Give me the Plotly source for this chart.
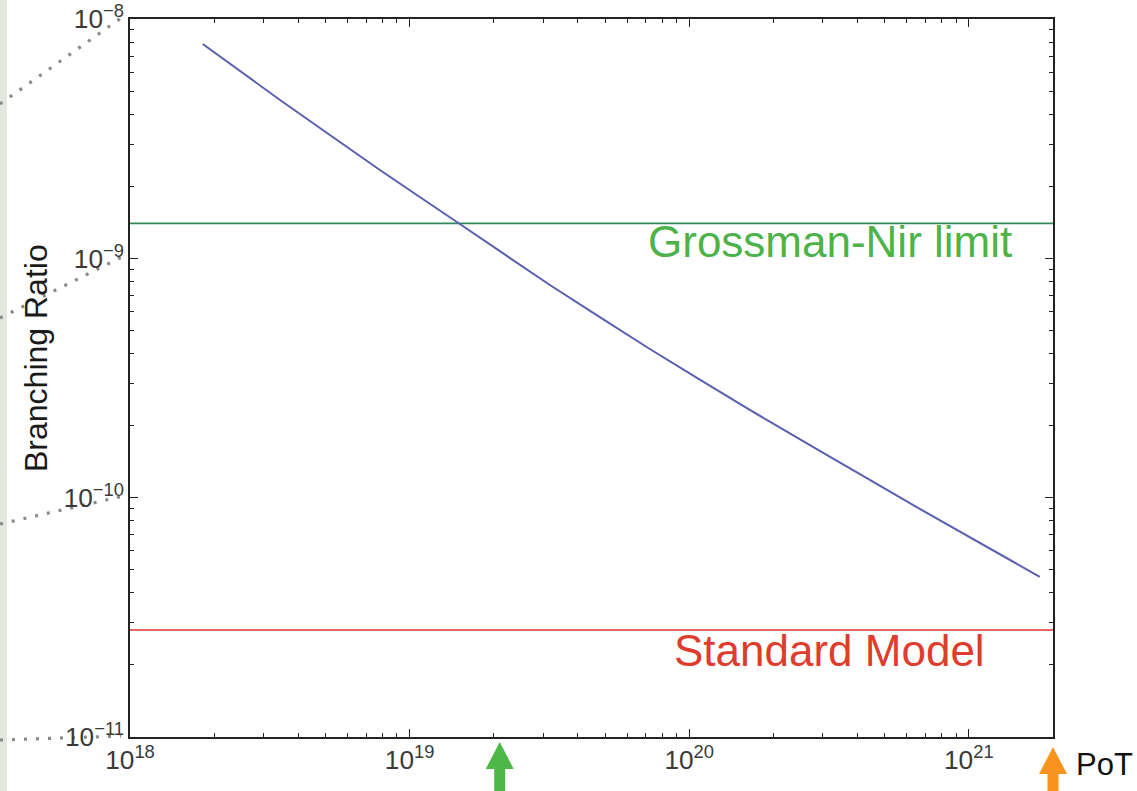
import math
import plotly.graph_objects as go

# ---------------- data ----------------
pot = [1.82e18, 3.44e18, 7.83e18, 1.476e19, 3.175e19, 7.23e19, 1.647e20, 2.93e20, 6.675e20, 1.793e21]
branching_ratio = [7.86e-9, 4.59e-9, 2.34e-9, 1.419e-9, 7.74e-10, 4.18e-10, 2.326e-10, 1.569e-10, 8.98e-11, 4.67e-11]
grossman_nir_limit = 1.4e-9
standard_model = 2.8e-11
x_range = [1e18, 2e21]
y_range = [1e-11, 1e-8]
y_decades = [1e-8, 1e-9, 1e-10, 1e-11]
arrow_pot = [2.1e19, 2.0e21]
labels = {"y": "Branching Ratio", "gn": "Grossman-Nir limit", "sm": "Standard Model", "pot": "PoT"}

# ---------------- layout helpers (pixels -> paper) ----------------
W, H = 1137, 791
L, R, T, B = 130, 84, 19, 54
PW, PH = W - L - R, H - T - B
FONT = "Liberation Sans, Arial, Helvetica, sans-serif"


def px(x):
    return (x - L) / PW


def py(y):
    return (H - B - y) / PH


lx0, lx1 = math.log10(x_range[0]), math.log10(x_range[1])
ly0, ly1 = math.log10(y_range[0]), math.log10(y_range[1])


def xdata_to_paper(v):
    return (math.log10(v) - lx0) / (lx1 - lx0)


def ydata_to_paper(v):
    return (math.log10(v) - ly0) / (ly1 - ly0)


fig = go.Figure()

fig.add_trace(go.Scatter(x=x_range, y=[grossman_nir_limit] * 2, mode="lines",
                         line=dict(color="#2f8a58", width=1.6), hoverinfo="skip"))
fig.add_trace(go.Scatter(x=x_range, y=[standard_model] * 2, mode="lines",
                         line=dict(color="#d8362c", width=1.6), hoverinfo="skip"))
fig.add_trace(go.Scatter(x=pot, y=branching_ratio, mode="lines",
                         line=dict(color="#5a5fb0", width=2, shape="spline", smoothing=0.5)))

axis_common = dict(
    type="log", dtick=1, exponentformat="power", showgrid=False, zeroline=False,
    showline=True, linecolor="#222", linewidth=1.6, mirror="ticks", automargin=False,
    ticks="inside", ticklen=8, tickwidth=1.4, tickcolor="#222",
    tickfont=dict(family=FONT, size=21, color="#3a3a3a"),
    minor=dict(ticks="inside", ticklen=4, tickwidth=1.2, tickcolor="#222", dtick="D1", showgrid=False),
)

fig.update_xaxes(range=[lx0, lx1], **axis_common)
fig.update_yaxes(range=[ly0, ly1], **axis_common)

shapes = []
# left light strip of the slide
shapes.append(dict(type="rect", xref="paper", yref="paper", x0=px(0), x1=px(7), y0=py(H), y1=py(0),
                   fillcolor="#e3e8dc", line=dict(width=0), layer="below"))
# dotted leader lines toward the y tick labels
leader_start_px = [104, 318, 524, 740]
for dec, y0px in zip(y_decades, leader_start_px):
    ye = ydata_to_paper(dec)
    shapes.append(dict(type="line", xref="paper", yref="paper", x0=px(0), y0=py(y0px),
                       x1=px(121), y1=ye + 1 / PH, line=dict(color="#8a8a8a", width=3.2, dash="3px,9px"),
                       layer="below"))
# arrows under the x axis
arrow_colors = ["#4db848", "#f7941d"]
arrow_tip_px = [742, 747]
for v, col, tip in zip(arrow_pot, arrow_colors, arrow_tip_px):
    xc = xdata_to_paper(v)
    hw, sw, hh = 14 / PW, 5.5 / PW, 27
    yt, yb, ye = py(tip), py(tip + hh), py(H + 20)
    path = (f"M {xc},{yt} L {xc + hw},{yb} L {xc + sw},{yb} L {xc + sw},{ye} "
            f"L {xc - sw},{ye} L {xc - sw},{yb} L {xc - hw},{yb} Z")
    shapes.append(dict(type="path", xref="paper", yref="paper", path=path,
                       fillcolor=col, line=dict(width=0)))

annotations = [
    dict(text=labels["y"], x=px(36), y=py(358), xref="paper", yref="paper", textangle=-90,
         xanchor="center", yanchor="middle",
         showarrow=False, font=dict(family=FONT, size=32, color="#1a1a1a")),
    dict(text=labels["gn"], x=px(830), y=py(241), xref="paper", yref="paper",
         xanchor="center", yanchor="middle",
         showarrow=False, font=dict(family=FONT, size=44, color="#4cb34a")),
    dict(text=labels["sm"], x=px(829), y=py(650), xref="paper", yref="paper",
         xanchor="center", yanchor="middle",
         showarrow=False, font=dict(family=FONT, size=44, color="#e03c2e")),
    dict(text=labels["pot"], x=px(1074), y=py(764), xref="paper", yref="paper",
         xanchor="left", yanchor="middle",
         showarrow=False, font=dict(family=FONT, size=31, color="#111")),
]

fig.update_layout(
    width=W, height=H, autosize=False,
    margin=dict(l=L, r=R, t=T, b=B, pad=0),
    paper_bgcolor="white", plot_bgcolor="white",
    showlegend=False, shapes=shapes, annotations=annotations,
    font=dict(family=FONT),
)

fig.write_html("out.html", config={"displayModeBar": False},
               post_script="document.body.style.margin='0';document.body.style.overflow='hidden';")
